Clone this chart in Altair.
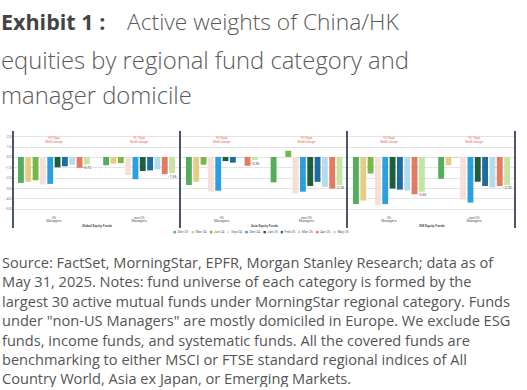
import altair as alt
import pandas as pd

# ---------------- data ----------------
months = ["Dec-23", "Mar-24", "Jun-24", "Sep-24", "Dec-24",
          "Jan-25", "Feb-25", "Mar-25", "Apr-25", "May-25"]
colors = ["#55ac5c", "#e6cd86", "#78b846", "#f5dfd7", "#2b9fe0",
          "#1f5d3b", "#1e6c9f", "#b6dbeb", "#e47a60", "#c4e5a6"]
categories = ["Global Equity Funds", "Asia Equity Funds", "EM Equity Funds"]
managers = ["US|Managers", "non-US|Managers"]

global_us = [-2.50, -2.40, -2.25, -2.65, -2.60, -1.00, -0.90, -0.75, -1.05, -0.72]
global_nonus = [-0.80, -0.65, -0.60, -1.75, -2.15, -1.35, -1.30, -1.20, -1.65, -1.55]
asia_us = [-2.70, -2.40, -0.75, -3.35, -3.25, -0.40, -0.55, -0.10, -0.85, -0.30]
asia_nonus = [-2.45, -0.03, 0.60, -3.50, -3.35, -2.80, -2.40, -2.90, -3.05, -2.70]
em_us = [-4.55, -4.20, -1.60, -4.65, -4.55, -3.05, -3.15, -3.25, -3.60, -3.35]
em_nonus = [-2.10, -0.80, -0.03, -4.10, -4.40, -2.40, -2.80, -2.95, -2.80, -2.70]

series = {
    ("Global Equity Funds", "US|Managers"): global_us,
    ("Global Equity Funds", "non-US|Managers"): global_nonus,
    ("Asia Equity Funds", "US|Managers"): asia_us,
    ("Asia Equity Funds", "non-US|Managers"): asia_nonus,
    ("EM Equity Funds", "US|Managers"): em_us,
    ("EM Equity Funds", "non-US|Managers"): em_nonus,
}
notes = {
    ("Global Equity Funds", "US|Managers"): "+0.33ppt\nMoM change",
    ("Global Equity Funds", "non-US|Managers"): "+0.10ppt\nMoM change",
    ("Asia Equity Funds", "US|Managers"): "+0.55ppt\nMoM change",
    ("Asia Equity Funds", "non-US|Managers"): "+0.35ppt\nMoM change",
    ("EM Equity Funds", "US|Managers"): "+0.25ppt\nMoM change",
    ("EM Equity Funds", "non-US|Managers"): "+0.10ppt\nMoM change",
}
y_ticks = [2, 1, 0, -1, -2, -3, -4, -5]

title_bold = "Exhibit 1 :"
title_rest = "Active weights of China/HK"
title_lines = ["equities by regional fund category and", "manager domicile"]
source_lines = [
    "Source: FactSet, MorningStar, EPFR, Morgan Stanley Research; data as of",
    "May 31, 2025. Notes: fund universe of each category is formed by the",
    "largest 30 active mutual funds under MorningStar regional category. Funds",
    "under \"non-US Managers\" are mostly domiciled in Europe. We exclude ESG",
    "funds, income funds, and systematic funds. All the covered funds are",
    "benchmarking to either MSCI or FTSE standard regional indices of All",
    "Country World, Asia ex Japan, or Emerging Markets.",
]

rows = []
for (cat, man), vals in series.items():
    for m, v in zip(months, vals):
        rows.append({"category": cat, "manager": man, "month": m, "value": v})
df = pd.DataFrame(rows)
note_df = pd.DataFrame([{"category": c, "manager": m, "note": t} for (c, m), t in notes.items()])

# ---------------- layout constants ----------------
PW = [167, 166, 167]
PH = 83
LEFT = 13          # y-axis extent of the first panel
FONT = "Roboto"
SEP = "#1f2a44"

color_scale = alt.Scale(domain=months, range=colors)


def panel(i):
    cat = categories[i]
    d = df[df.category == cat]
    base = alt.Chart(d)
    x = alt.X("manager:N", sort=managers,
              scale=alt.Scale(paddingInner=0.14, paddingOuter=0.05),
              axis=alt.Axis(title=cat, labelExpr="split(datum.label, '|')",
                            labelFontSize=3.4, labelLineHeight=3.8, labelAngle=0,
                            labelColor="#555", ticks=False, domain=False,
                            labelPadding=1, titleFontSize=3.4, titleFontWeight="bold",
                            titleColor="#555", titlePadding=0.8, labelFont=FONT, titleFont=FONT))
    xo = alt.XOffset("month:N", sort=months, scale=alt.Scale(paddingInner=0.2, paddingOuter=0.1))
    common = dict(values=y_ticks, format=".1f", grid=True, gridColor="#d9d9d9",
                  gridWidth=0.7, ticks=False, domain=False, title=None,
                  labelFontSize=3.4, labelColor="#666", labelPadding=2, labelFont=FONT)
    if i == 0:
        yaxis = alt.Axis(minExtent=LEFT, maxExtent=LEFT, **common)
    else:
        yaxis = alt.Axis(labels=False, **common)
    y = alt.Y("value:Q", scale=alt.Scale(domain=[-5.5, 2.5], nice=False, zero=False), axis=yaxis)

    bars = base.mark_bar().encode(
        x=x, xOffset=xo, y=y, y2=alt.datum(0),
        color=alt.Color("month:N", sort=months, scale=color_scale,
                        legend=alt.Legend(orient="none", legendX=173 - LEFT, legendY=230,
                                          direction="horizontal", columns=10, title=None,
                                          symbolType="square", symbolSize=6,
                                          symbolStrokeWidth=0, labelFontSize=3.4,
                                          labelColor="#555", labelOffset=1.2,
                                          columnPadding=2.2, padding=0, labelFont=FONT)),
    )
    labels = base.transform_filter(alt.datum.month == months[-1]).mark_text(
        baseline="top", dy=1.5, fontSize=3.4, color="#333", font=FONT
    ).encode(x=x, xOffset=xo, y=y, text=alt.Text("value:Q", format=".2f"))
    ann = alt.Chart(note_df[note_df.category == cat]).mark_text(
        baseline="top", fontSize=3.0, lineHeight=3.6, color="#e0705a", font=FONT, lineBreak="\n"
    ).encode(x=alt.X("manager:N", sort=managers), y=alt.value(6), text="note:N")
    sep = alt.Chart(alt.Data(values=[{}])).mark_rule(color=SEP, strokeWidth=1.6).encode(
        x=alt.value(PW[i]), y=alt.value(0), y2=alt.value(97))
    layers = [bars, labels, ann, sep]
    if i == 0:
        layers.append(alt.Chart(alt.Data(values=[{}])).mark_rule(color=SEP, strokeWidth=1.6).encode(
            x=alt.value(0), y=alt.value(0), y2=alt.value(97)))
    return alt.layer(*layers).properties(width=PW[i], height=PH)


panels = alt.hconcat(*[panel(i) for i in range(3)], spacing=0)

# header / footer are aligned with the plot area (LEFT px in), so shift text back
header = alt.layer(
    alt.Chart(alt.Data(values=[{"t": title_bold}])).mark_text(
        align="left", baseline="alphabetic", font="Open Sans", fontSize=21.5, fontWeight="bold",
        color="#444"
    ).encode(x=alt.value(1 - LEFT), y=alt.value(29.5), text="t:N"),
    alt.Chart(alt.Data(values=[{"t": title_rest}])).mark_text(
        align="left", baseline="alphabetic", font="Open Sans", fontSize=22.8, fontWeight=300,
        color="#5a5a5a"
    ).encode(x=alt.value(127 - LEFT), y=alt.value(29.5), text="t:N"),
    alt.Chart(alt.Data(values=[{"t": "\n".join(title_lines)}])).mark_text(
        align="left", baseline="alphabetic", font="Open Sans", fontSize=23.8, fontWeight=300,
        color="#5a5a5a", lineBreak="\n", lineHeight=35.3
    ).encode(x=alt.value(1 - LEFT), y=alt.value(68.5), text="t:N"),
).properties(width=527 - LEFT, height=130)

footer = alt.Chart(alt.Data(values=[{"t": "\n".join(source_lines)}])).mark_text(
    align="left", baseline="alphabetic", font="Open Sans", fontSize=14.6, color="#555",
    lineBreak="\n", lineHeight=19.4
).encode(x=alt.value(2 - LEFT), y=alt.value(39), text="t:N").properties(width=527 - LEFT, height=155)

chart = alt.vconcat(header, panels, footer, spacing=0).properties(
    padding=0, background="white"
).configure_view(strokeWidth=0, stroke="transparent")

chart.save("out.html", embed_options={"renderer": "svg", "actions": False})
